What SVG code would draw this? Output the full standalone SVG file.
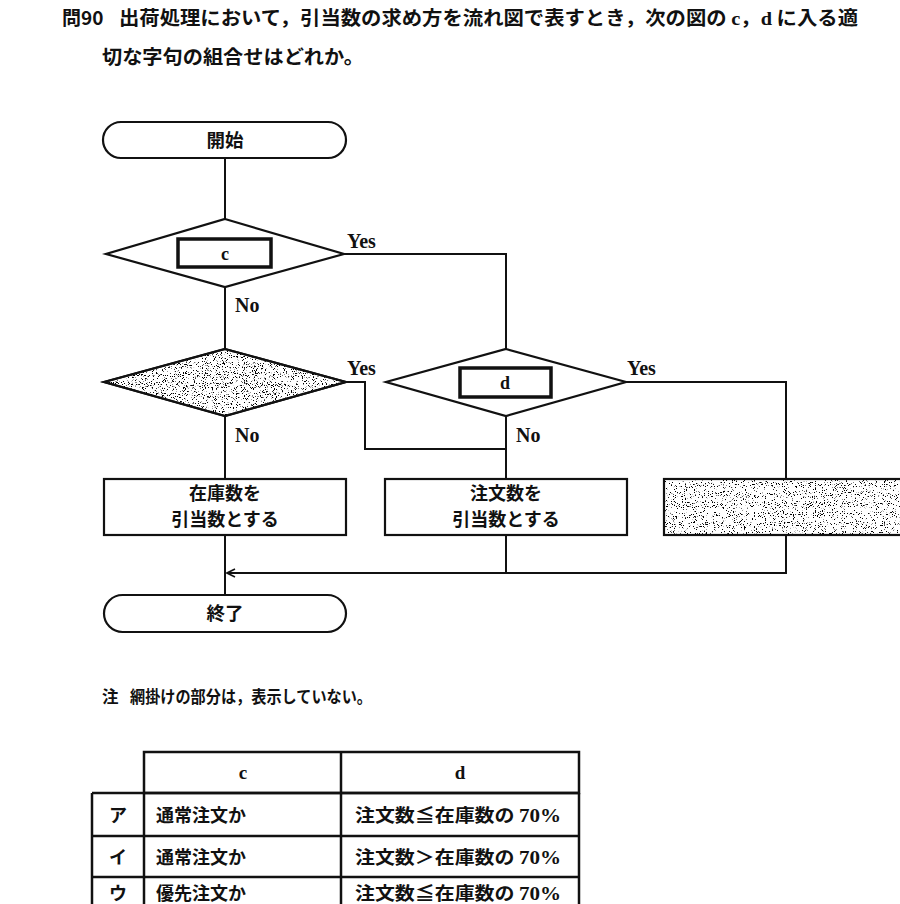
<svg xmlns="http://www.w3.org/2000/svg" width="900" height="904" viewBox="0 0 900 904">
<style>
.jp{font-family:"Noto Sans CJK JP","Noto Sans",sans-serif;font-weight:bold;fill:#111}
.lt{font-family:"Liberation Serif",serif;font-weight:bold;fill:#111}
.ln{fill:none;stroke:#111;stroke-width:2}
.sh{fill:#fff;stroke:#111;stroke-width:2.2}
.in{fill:#fff;stroke:#111;stroke-width:3.5}
.tb{fill:none;stroke:#111;stroke-width:2.5}
</style>
<defs>
<filter id="speckD" x="0" y="0" width="100%" height="100%">
<feTurbulence type="fractalNoise" baseFrequency="0.9" numOctaves="2" seed="7"/>
<feColorMatrix type="matrix" values="0 0 0 0 0  0 0 0 0 0  0 0 0 0 0  14 0 0 0 -8.3"/>
</filter>
<filter id="speckB" x="0" y="0" width="100%" height="100%">
<feTurbulence type="fractalNoise" baseFrequency="0.9" numOctaves="2" seed="11"/>
<feColorMatrix type="matrix" values="0 0 0 0 0  0 0 0 0 0  0 0 0 0 0  14 0 0 0 -8.7"/>
</filter>
<clipPath id="cpD3"><polygon points="225,349 346,382 225,416 104,382"/></clipPath>
<clipPath id="cpB3"><rect x="664" y="479" width="240" height="56"/></clipPath>
<marker id="arr" viewBox="0 0 10 10" refX="9" refY="5" markerWidth="10" markerHeight="10" markerUnits="userSpaceOnUse" orient="auto">
<polyline points="1,1 9,5 1,9" fill="none" stroke="#111" stroke-width="1.6"/>
</marker>
</defs>

<g id="title">
<text class="jp" x="62" y="25" font-size="19">問90</text>
<text class="jp" x="119" y="25" font-size="19" textLength="739" lengthAdjust="spacingAndGlyphs">出荷処理において，引当数の求め方を流れ図で表すとき，次の図の <tspan class="lt">c</tspan>，<tspan class="lt">d</tspan> に入る適</text>
<text class="jp" x="102" y="64" font-size="19" textLength="262" lengthAdjust="spacingAndGlyphs">切な字句の組合せはどれか。</text>
</g>

<g id="connectors">
<line class="ln" x1="225" y1="158" x2="225" y2="219"/>
<polyline class="ln" points="343,254 506,254 506,349"/>
<line class="ln" x1="225" y1="287" x2="225" y2="349"/>
<polyline class="ln" points="346,382 365,382 365,449 506,449"/>
<line class="ln" x1="225" y1="416" x2="225" y2="479"/>
<line class="ln" x1="506" y1="416" x2="506" y2="479"/>
<polyline class="ln" points="626,382 786,382 786,479"/>
<line class="ln" x1="225" y1="535" x2="225" y2="595"/>
<line class="ln" x1="506" y1="535" x2="506" y2="573"/>
<polyline class="ln" points="786,535 786,573 227,573" marker-end="url(#arr)"/>
<text class="lt" x="347" y="248" font-size="20">Yes</text>
<text class="lt" x="235" y="312" font-size="20">No</text>
<text class="lt" x="347" y="375" font-size="20">Yes</text>
<text class="lt" x="235" y="442" font-size="20">No</text>
<text class="lt" x="627" y="375" font-size="20">Yes</text>
<text class="lt" x="516" y="442" font-size="20">No</text>
</g>

<g id="start">
<rect class="sh" x="103" y="122" width="243" height="36" rx="18"/>
<text class="jp" x="225" y="147" font-size="18.5" text-anchor="middle">開始</text>
</g>

<g id="decision-c">
<polygon class="sh" points="225,219 344,254 225,287 106,254"/>
<rect class="in" x="178" y="239" width="93" height="28"/>
<text class="lt" x="225" y="260" font-size="18" text-anchor="middle">c</text>
</g>

<g id="decision-hidden">
<polygon class="sh" points="225,349 346,382 225,416 104,382"/>
<rect x="100" y="345" width="250" height="75" fill="#000" filter="url(#speckD)" clip-path="url(#cpD3)"/>
<polygon class="ln" points="225,349 346,382 225,416 104,382"/>
</g>

<g id="decision-d">
<polygon class="sh" points="506,349 626,382 506,416 386,382"/>
<rect class="in" x="460" y="368" width="91" height="29"/>
<text class="lt" x="505" y="389" font-size="18" text-anchor="middle">d</text>
</g>

<g id="box-stock">
<rect class="sh" x="104" y="479" width="242" height="56"/>
<text class="jp" x="225" y="500" font-size="18" text-anchor="middle">在庫数を</text>
<text class="jp" x="225" y="526" font-size="18" text-anchor="middle">引当数とする</text>
</g>

<g id="box-order">
<rect class="sh" x="385" y="479" width="242" height="56"/>
<text class="jp" x="506" y="500" font-size="18" text-anchor="middle">注文数を</text>
<text class="jp" x="506" y="526" font-size="18" text-anchor="middle">引当数とする</text>
</g>

<g id="box-hidden">
<rect class="sh" x="664" y="479" width="250" height="56"/>
<rect x="664" y="479" width="240" height="56" fill="#000" filter="url(#speckB)" clip-path="url(#cpB3)"/>
<rect class="ln" x="664" y="479" width="250" height="56"/>
</g>

<g id="end">
<rect class="sh" x="104" y="595" width="242" height="37" rx="18.5"/>
<text class="jp" x="225" y="620" font-size="18.5" text-anchor="middle">終了</text>
</g>

<g id="note">
<text class="jp" x="102" y="703" font-size="16.5">注</text>
<text class="jp" x="130" y="703" font-size="16.5" textLength="242" lengthAdjust="spacingAndGlyphs">網掛けの部分は，表示していない。</text>
</g>

<g id="table">
<rect class="tb" x="144" y="752" width="435" height="41"/>
<line class="tb" x1="341" y1="752" x2="341" y2="904"/>
<line class="tb" x1="144" y1="793" x2="144" y2="904"/>
<line class="tb" x1="92" y1="793" x2="92" y2="904"/>
<line class="tb" x1="579" y1="793" x2="579" y2="904"/>
<line class="tb" x1="92" y1="793" x2="579" y2="793"/>
<line class="tb" x1="92" y1="836" x2="579" y2="836"/>
<line class="tb" x1="92" y1="877" x2="579" y2="877"/>
<text class="lt" x="243" y="779" font-size="19" text-anchor="middle">c</text>
<text class="lt" x="460" y="779" font-size="19" text-anchor="middle">d</text>
<text class="jp" x="118" y="822" font-size="18" text-anchor="middle">ア</text>
<text class="jp" x="156" y="822" font-size="18">通常注文か</text>
<text class="jp" x="355" y="822" font-size="18" textLength="206" lengthAdjust="spacingAndGlyphs">注文数≦在庫数の <tspan class="lt" font-size="19">70%</tspan></text>
<text class="jp" x="118" y="864" font-size="18" text-anchor="middle">イ</text>
<text class="jp" x="156" y="864" font-size="18">通常注文か</text>
<text class="jp" x="355" y="864" font-size="18" textLength="206" lengthAdjust="spacingAndGlyphs">注文数＞在庫数の <tspan class="lt" font-size="19">70%</tspan></text>
<text class="jp" x="118" y="900" font-size="18" text-anchor="middle">ウ</text>
<text class="jp" x="156" y="900" font-size="18">優先注文か</text>
<text class="jp" x="355" y="900" font-size="18" textLength="206" lengthAdjust="spacingAndGlyphs">注文数≦在庫数の <tspan class="lt" font-size="19">70%</tspan></text>
</g>
</svg>
